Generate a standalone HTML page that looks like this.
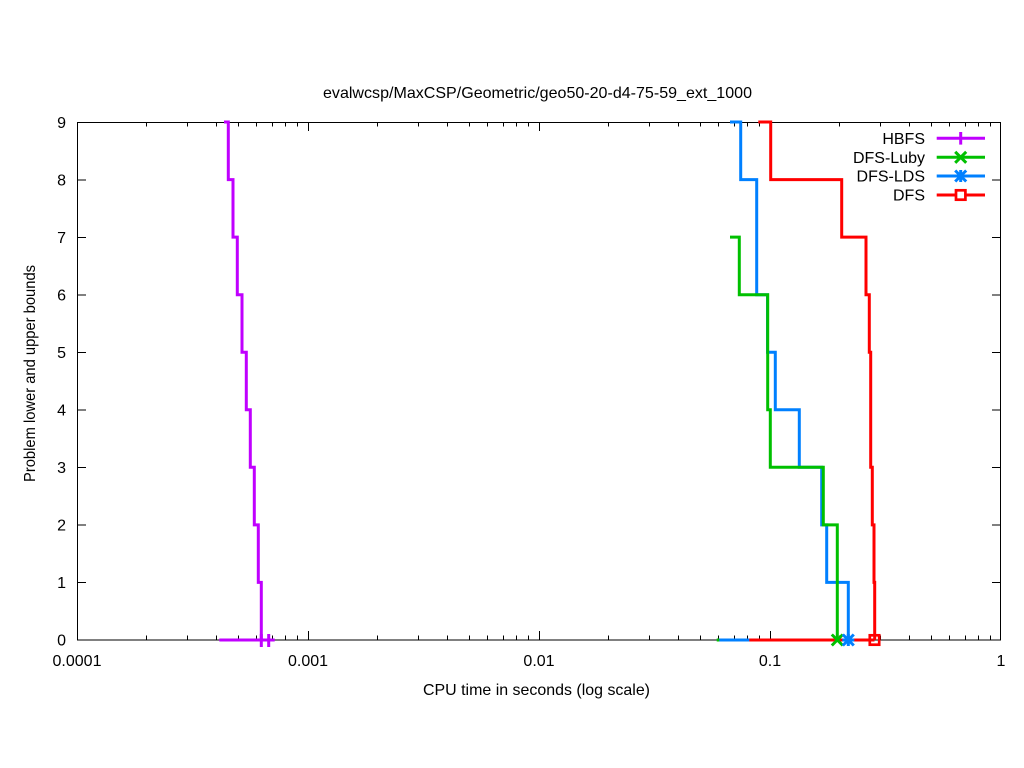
<!DOCTYPE html>
<html><head><meta charset="utf-8"><style>
html,body{margin:0;padding:0;background:#fff;}
svg{display:block;}
text{font-family:"Liberation Sans",Arial,sans-serif;font-size:16px;fill:#000;}
</style></head><body>
<svg width="1024" height="768" viewBox="0 0 1024 768" xmlns="http://www.w3.org/2000/svg">
<rect x="0" y="0" width="1024" height="768" fill="#fff"/>
<!-- ticks -->
<g stroke="#000" stroke-width="1" fill="none">
<!-- y ticks left/right -->
<path d="M77,122.5h9M77,180h9M77,237.5h9M77,295h9M77,352.5h9M77,410h9M77,467.5h9M77,525h9M77,582.5h9
M1001,122.5h-9M1001,180h-9M1001,237.5h-9M1001,295h-9M1001,352.5h-9M1001,410h-9M1001,467.5h-9M1001,525h-9M1001,582.5h-9"/>
<!-- x major ticks -->
<path d="M77.5,640v-9M308.5,640v-9M539.5,640v-9M770.5,640v-9M1000.5,640v-9
M77.5,122v9M308.5,122v9M539.5,122v9M770.5,122v9M1000.5,122v9"/>
<!-- x minor ticks -->
<path d="
M146.5,640v-4.5M187.5,640v-4.5M216.5,640v-4.5M238.5,640v-4.5M256.5,640v-4.5M272.5,640v-4.5M285.5,640v-4.5M297.5,640v-4.5
M377.5,640v-4.5M418.5,640v-4.5M447.5,640v-4.5M469.5,640v-4.5M487.5,640v-4.5M503.5,640v-4.5M516.5,640v-4.5M528.5,640v-4.5
M608.5,640v-4.5M649.5,640v-4.5M678.5,640v-4.5M700.5,640v-4.5M718.5,640v-4.5M734.5,640v-4.5M747.5,640v-4.5M759.5,640v-4.5
M839.5,640v-4.5M880.5,640v-4.5M909.5,640v-4.5M931.5,640v-4.5M949.5,640v-4.5M965.5,640v-4.5M978.5,640v-4.5M990.5,640v-4.5
M146.5,122v4.5M187.5,122v4.5M216.5,122v4.5M238.5,122v4.5M256.5,122v4.5M272.5,122v4.5M285.5,122v4.5M297.5,122v4.5
M377.5,122v4.5M418.5,122v4.5M447.5,122v4.5M469.5,122v4.5M487.5,122v4.5M503.5,122v4.5M516.5,122v4.5M528.5,122v4.5
M608.5,122v4.5M649.5,122v4.5M678.5,122v4.5M700.5,122v4.5M718.5,122v4.5M734.5,122v4.5M747.5,122v4.5M759.5,122v4.5
M839.5,122v4.5M880.5,122v4.5M909.5,122v4.5M931.5,122v4.5M949.5,122v4.5M965.5,122v4.5M978.5,122v4.5M990.5,122v4.5"/>
<rect x="77.5" y="122.5" width="923" height="517.5"/>
</g>
<!-- tick labels -->
<g text-anchor="end">
<text x="66" y="128">9</text>
<text x="66" y="185.5">8</text>
<text x="66" y="243">7</text>
<text x="66" y="300.5">6</text>
<text x="66" y="358">5</text>
<text x="66" y="415.5">4</text>
<text x="66" y="473">3</text>
<text x="66" y="530.5">2</text>
<text x="66" y="588">1</text>
<text x="66" y="645.5">0</text>
</g>
<g text-anchor="middle">
<text x="77" y="666">0.0001</text>
<text x="308" y="666">0.001</text>
<text x="539" y="666">0.01</text>
<text x="770" y="666">0.1</text>
<text x="1001" y="666">1</text>
<text x="537.5" y="98" textLength="429" lengthAdjust="spacingAndGlyphs">evalwcsp/MaxCSP/Geometric/geo50-20-d4-75-59_ext_1000</text>
<text x="536.5" y="695" textLength="227" lengthAdjust="spacingAndGlyphs">CPU time in seconds (log scale)</text>
<text transform="translate(35,373.5) rotate(-90)" x="0" y="0" textLength="217" lengthAdjust="spacingAndGlyphs">Problem lower and upper bounds</text>
</g>

<!-- series -->
<g fill="none" stroke-width="3" stroke-linejoin="miter" stroke-linecap="butt">
<!-- HBFS -->
<polyline stroke="#c000ff" points="224,122 228.3,122 228.3,179.6 233,179.6 233,237.1 237.3,237.1 237.3,294.7 242,294.7 242,352.2 246.3,352.2 246.3,409.8 250.3,409.8 250.3,467.3 254.3,467.3 254.3,524.9 258.3,524.9 258.3,582.4 261.3,582.4 261.3,640"/>
<polyline stroke="#c000ff" points="219.3,640 268.7,640"/>
<path stroke="#c000ff" d="M255.3,640h12M261.3,634v13M262.7,640h12M268.7,634v13"/>
<!-- DFS-LDS upper -->
<polyline stroke="#0080ff" points="730,122 740.7,122 740.7,179.6 756.7,179.6 756.7,294.7 767.5,294.7 767.5,352.2 775.3,352.2 775.3,409.8 799.3,409.8 799.3,467.3 821.7,467.3 821.7,524.9 826.7,524.9 826.7,582.4 848.3,582.4 848.3,640"/>
<!-- DFS-Luby upper -->
<polyline stroke="#00c000" points="730,237.1 739.3,237.1 739.3,294.7 767.7,294.7 767.7,409.8 770.3,409.8 770.3,467.3 823.3,467.3 823.3,524.9 837.3,524.9 837.3,640"/>
<!-- bottom lines -->
<polyline stroke="#00c000" points="716.7,640 837.3,640"/>
<polyline stroke="#0080ff" points="719.3,640 848.3,640"/>
<polyline stroke="#ff0000" points="749.3,640 874.5,640"/>
<!-- DFS upper -->
<polyline stroke="#ff0000" points="758.3,122 770.7,122 770.7,179.6 841.7,179.6 841.7,237.1 866,237.1 866,294.7 869.3,294.7 869.3,352.2 870.7,352.2 870.7,467.3 872.3,467.3 872.3,524.9 874,524.9 874,582.4 874.7,582.4 874.7,640"/>
<!-- markers -->
<path stroke="#00c000" d="M831.8,634.5l11,11M831.8,645.5l11,-11"/>
<path stroke="#0080ff" d="M842.8,634.5l11,11M842.8,645.5l11,-11M848.3,634v12M842.3,640h12"/>
<rect stroke="#ff0000" stroke-width="2.7" x="869.8" y="635.3" width="9.4" height="9.4"/>

<!-- legend -->
<polyline stroke="#c000ff" points="936.7,138.3 985,138.3"/>
<path stroke="#c000ff" d="M960.7,132v12.6"/>
<polyline stroke="#00c000" points="936.7,157.3 985,157.3"/>
<path stroke="#00c000" d="M955.2,151.8l11,11M955.2,162.8l11,-11"/>
<polyline stroke="#0080ff" points="936.7,176 985,176"/>
<path stroke="#0080ff" d="M955.2,170.5l11,11M955.2,181.5l11,-11M960.7,170v12"/>
<polyline stroke="#ff0000" points="936.7,195 985,195"/>
<rect stroke="#ff0000" stroke-width="2.7" fill="#fff" x="956" y="190.3" width="9.4" height="9.4"/>
</g>
<g text-anchor="end">
<text x="925" y="144">HBFS</text>
<text x="925" y="163">DFS-Luby</text>
<text x="925" y="181.7">DFS-LDS</text>
<text x="925" y="200.7">DFS</text>
</g>
</svg>
</body></html>
